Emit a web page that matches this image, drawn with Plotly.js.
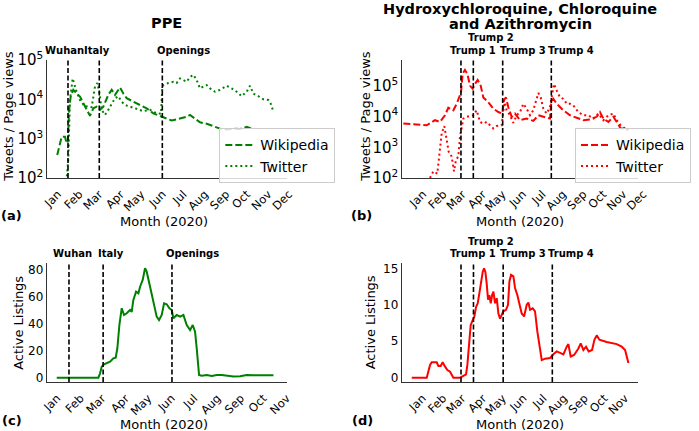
<!DOCTYPE html>
<html>
<head>
<meta charset="utf-8">
<script src="https://cdn.plot.ly/plotly-3.0.1.min.js"></script>
<style>html,body{margin:0;padding:0;background:#fff;}#chart{width:699px;height:431px;}</style>
</head>
<body>
<div id="chart"></div>
<script>
// ---- tick labels (x = day of 2020, 0 = Jan 1) ----
const monthDays = [0, 31, 60, 91, 121, 152, 182, 213, 244, 274, 305, 335];
const monthNames = ["Jan","Feb","Mar","Apr","May","Jun","Jul","Aug","Sep","Oct","Nov","Dec"];

// ---- event markers ----
const ppeEventNames = ["Wuhan", "Italy", "Openings"];
const ppeEventDays = [27.6, 73, 164.5];
const hcqEventNames = ["Trump 1", "Trump 2", "Trump 3", "Trump 4"];
const hcqEventDays = [71.5, 90.3, 135, 209];

// ---- (a) PPE: Wikipedia page views ----
const ppeWikiDays = [12,15,18.4,23.2,25.7,27.5,29,31.5,35.3,45,52.3,59.5,64.4,69.2,74,78.9,86.1,91,95.8,100.6,103.1,107.9,112.7,122.4,132.1,141.8,151.4,164.5,170.8,178.1,185.3,192.6,199.8,204.7,211.9,219.2,228.9,238.5,248.2,257.9,267.6,277.2,286.9,294.2];
const ppeWikiViews = [385,700,1120,1120,760,850,5000,11700,17400,11700,6500,3800,5900,6500,5400,6500,13000,17400,13000,17400,20000,14000,10700,8700,7200,5900,4400,3600,3300,2900,3100,3300,3600,4000,3300,2600,2400,2100,1800,1700,1800,1750,2000,1800];

// ---- (a) PPE: tweets ----
const ppeTwDays = [26,28,30.5,34.4,39.2,45,52.3,57.1,61.9,66.8,70.2,73.1,76.5,81.3,86.1,91,95.8,100.6,105.5,110.3,117.6,127.3,136.9,146.6,156.3,162.6,164.5,166,173.2,180.5,185.3,190.1,195,199.8,204.7,209.5,214.3,219.2,224,228.9,233.7,240.9,248.2,257.9,265.1,272.4,279.6,286.9,291.7,296.6,303.8,311.1,318.4,321.7,325.6];
const ppeTwCounts = [110,300,9600,34000,17400,9600,6500,6700,6300,21000,26000,15000,5400,4000,5400,7900,10700,12000,8700,7200,6500,5600,5000,5400,4400,4300,21000,23000,26000,28000,26000,34000,31000,28000,37000,42000,31000,19000,21000,23000,19000,15600,17400,22000,19000,15600,12000,15600,22000,14000,12000,10000,9600,7900,4900];

// ---- (b) HCQ: Wikipedia page views ----
const hcqWikiDays = [-16.2,4.1,19.3,32,39.6,47.2,52.3,59.9,65,71.5,74,77.6,81.2,85.2,89.3,92.9,96.9,101.5,105.5,113.2,120.8,128.4,134.5,137,140,143.6,148.7,153.7,161.4,171.5,181.6,189.3,196.9,207,209,212.1,217.2,227.3,237.5,247.6,257.7,267.9,278,283.1,288.2,295.8,303.4,308.5,314.6,321.2,326.2];
const hcqWikiViews = [5900,5600,5200,7600,6700,11000,19500,16000,26000,60000,245000,330000,245000,102000,80000,115000,155000,102000,42000,29000,18000,14000,12500,34000,42000,20000,9800,12500,7600,8600,7200,11000,9800,8600,30000,38000,26000,16000,11000,9300,7600,8000,9800,14000,8600,6700,9800,6700,4100,4100,3600];

// ---- (b) HCQ: tweets ----
const hcqTwDays = [24.4,29.4,35.5,38.6,42.1,46.2,49.7,52.8,57.3,60.9,63.9,67.5,70,72.6,75.1,80.2,85.2,90.3,95.4,100.5,105.5,110.6,115.7,120.8,125.8,133.4,136,138.5,141,146.1,151.2,156.3,161.4,166.4,171.5,176.6,181.6,185.7,189.3,192.8,196.9,201.9,207,209.5,213.1,217.2,222.2,227.3,232.4,237.5,242.5,250.1,257.7,265.4,273,280.6,288.2,295.8,303.4,308.5,314.6,321.2,326.2];
const hcqTwCounts = [100,165,140,500,2800,4900,1700,720,500,165,390,500,2200,4600,8600,9800,10200,11000,16000,6700,5900,6700,5200,4100,4900,5200,16000,29000,16000,11000,6200,11000,14000,26000,18000,11000,16000,34000,58000,42000,18000,12500,20000,42000,115000,71000,42000,38000,26000,26000,23000,14000,11000,11000,8600,12500,7600,11000,12500,7600,5200,4100,3800];

// ---- (c) PPE: active listings ----
const ppeListDays = [11.3,30,50,66.7,68.9,71.1,74.2,77.7,82.2,86.6,89.7,91.9,94.6,97.7,100.8,104.3,108.8,111,113.2,116.8,119.9,122.1,125.6,128.7,130.9,135.4,139.8,144.2,147.3,150.9,154,157.5,161.1,164.2,166.4,170.8,175.3,179.7,184.1,188.6,192.1,195.2,197.4,200.5,204.1,210.7,217.4,224,230.7,237.3,246.2,255.1,263.9,272.8,281.6,290.5,299.4];
const ppeListings = [0,0,0,0,3.2,8.1,9.9,10.6,11.8,14.3,14.8,21.7,38.9,51.3,46.3,47.6,50,48.7,57.4,63.5,62.3,67.2,72.2,80.8,78.3,67.2,54.9,45.1,42.6,46.3,54.9,54.2,51.3,50,43.9,46.3,45.1,46.3,38.9,35.2,38.9,34,21.7,2,1.5,2,1.3,2,2,1.3,0.8,1,2,1.8,1.8,1.8,1.8];

// ---- (d) HCQ: active listings ----
const hcqListDays = [-2.7,19.9,24.9,27.4,34.9,37.4,40.9,43.9,47.5,51,55,57.5,60,70.1,75.1,79.1,81.1,84.1,86.1,89.1,91.7,94.2,96.7,99.2,101.7,104.2,106.2,108.2,110.2,112.2,114.2,116.3,118.3,120.3,122.8,125.3,127.8,130.3,132.8,135.3,139.3,142.3,144.4,146.9,150.4,152.9,156.4,159.4,162.9,166.5,170.5,173,175.5,179.5,183,186.5,190.5,193.1,198.1,205.6,210.6,215.6,220.7,225.7,230.7,233.2,236.7,241.8,248.3,251.8,255.8,259.8,263.8,268.9,272.4,275.9,279.9,290.9,306,313.5,318.6,323.6];
const hcqListings = [0,0,1.74,2.1,2.1,1.6,1.6,2.1,1.5,1.05,0.8,0.45,0,0,0.3,0.45,1.74,4.9,7.2,7.9,8.4,9.7,10.2,11.6,13.2,14.5,15,14.5,12.9,10.7,11.3,10.2,11.3,11.8,10.2,10.9,8.8,8.1,8.6,9.1,9.3,10,13.2,14.1,13.9,12.3,11.3,10,8.8,8.4,10,10.3,9.3,9.5,9.1,6.3,4,2.4,2.6,2.7,3.2,3.6,3.4,3.2,4.25,4.6,2.9,3.1,4,4.7,3.8,4.25,3.6,3.8,5.2,5.8,5.2,4.9,4.6,4.25,3.8,2];

// ---------------- figure ----------------
const W = 699, H = 431;
const px = v => v / W;          // pixel -> paper x
const py = v => 1 - v / H;      // pixel -> paper y
const GREEN = '#008000', RED = '#ff0000';
const FONT = 'DejaVu Sans, Verdana, sans-serif';
const WIKI_DASH = '7px,3px', TW_DOT = '2px,3px';

const traces = [
  {x: ppeWikiDays, y: ppeWikiViews, xaxis: 'x', yaxis: 'y', name: 'Wikipedia', legend: 'legend',
   mode: 'lines', line: {color: GREEN, width: 2, dash: WIKI_DASH}},
  {x: ppeTwDays, y: ppeTwCounts, xaxis: 'x', yaxis: 'y', name: 'Twitter', legend: 'legend',
   mode: 'lines', line: {color: GREEN, width: 2, dash: TW_DOT}},
  {x: hcqWikiDays, y: hcqWikiViews, xaxis: 'x2', yaxis: 'y2', name: 'Wikipedia', legend: 'legend2',
   mode: 'lines', line: {color: RED, width: 2, dash: WIKI_DASH}},
  {x: hcqTwDays, y: hcqTwCounts, xaxis: 'x2', yaxis: 'y2', name: 'Twitter', legend: 'legend2',
   mode: 'lines', line: {color: RED, width: 2, dash: TW_DOT}},
  {x: ppeListDays, y: ppeListings, xaxis: 'x3', yaxis: 'y3', showlegend: false,
   mode: 'lines', line: {color: GREEN, width: 2}},
  {x: hcqListDays, y: hcqListings, xaxis: 'x4', yaxis: 'y4', showlegend: false,
   mode: 'lines', line: {color: RED, width: 2}}
];

const xBase = {
  tickmode: 'array', tickvals: monthDays, ticktext: monthNames, tickangle: -45,
  ticklabelshift: 9, ticklabelstandoff: 4, ticks: '', ticklen: 0, showgrid: false, zeroline: false,
  showline: true, linecolor: '#333', linewidth: 1,
  tickfont: {family: FONT, size: 11.5, color: '#000'}
};
const yBase = {
  ticks: '', ticklen: 0, ticklabelstandoff: 1.5, showgrid: false, zeroline: false,
  showline: true, linecolor: '#333', linewidth: 1,
  tickfont: {family: FONT, size: 12, color: '#000'}
};
const months11 = {tickvals: monthDays.slice(0, 11), ticktext: monthNames.slice(0, 11)};

const layout = {
  width: W, height: H, margin: {l: 0, r: 0, t: 0, b: 0},
  paper_bgcolor: '#fff', plot_bgcolor: '#fff',
  font: {family: FONT, color: '#000', size: 13},
  xaxis: Object.assign({}, xBase, {domain: [px(46.7), px(286.7)], range: [-3.3, 345], anchor: 'y'}),
  yaxis: Object.assign({}, yBase, {domain: [py(178), py(60)], type: 'log', range: [2, 5], dtick: 1,
    exponentformat: 'power', anchor: 'x'}),
  xaxis2: Object.assign({}, xBase, {domain: [px(401.7), px(638.3)], range: [-18.7, 341.4], anchor: 'y2'}),
  yaxis2: Object.assign({}, yBase, {domain: [py(178), py(60)], type: 'log', range: [2, 5.84], dtick: 1,
    exponentformat: 'power', anchor: 'x2'}),
  xaxis3: Object.assign({}, xBase, months11, {domain: [px(46.7), px(286.7)], range: [-2, 317], anchor: 'y3'}),
  yaxis3: Object.assign({}, yBase, {domain: [py(382), py(263)], range: [-3.2, 84.7], tickvals: [0, 20, 40, 60, 80],
    anchor: 'x3'}),
  xaxis4: Object.assign({}, xBase, months11, {domain: [px(401.7), px(638.3)], range: [-17.8, 338.5], anchor: 'y4'}),
  yaxis4: Object.assign({}, yBase, {domain: [py(382), py(263)], range: [-0.6, 15.73], tickvals: [0, 5, 10, 15],
    anchor: 'x4'}),
  legend: {x: px(219.3), y: py(128.3), xanchor: 'left', yanchor: 'top',
    bgcolor: 'rgba(255,255,255,0.8)', bordercolor: '#cccccc', borderwidth: 1,
    font: {family: FONT, size: 14, color: '#000'}},
  legend2: {x: px(575), y: py(128.3), xanchor: 'left', yanchor: 'top',
    bgcolor: 'rgba(255,255,255,0.8)', bordercolor: '#cccccc', borderwidth: 1,
    font: {family: FONT, size: 14, color: '#000'}},
  shapes: [],
  annotations: []
};

// event lines
function eventLines(days, xref, yref) {
  days.forEach(d => layout.shapes.push({type: 'line', xref: xref, yref: yref + ' domain',
    x0: d, x1: d, y0: 0, y1: 1, line: {color: '#000', width: 1.6, dash: '5px,2.5px'}}));
}
eventLines(ppeEventDays, 'x', 'y');
eventLines(hcqEventDays, 'x2', 'y2');
eventLines(ppeEventDays, 'x3', 'y3');
eventLines(hcqEventDays, 'x4', 'y4');

function ann(text, xPix, yPix, size, bold, angle) {
  layout.annotations.push({text: bold ? '<b>' + text + '</b>' : text, xref: 'paper', yref: 'paper',
    x: px(xPix), y: py(yPix), xanchor: 'center', yanchor: 'middle', showarrow: false,
    textangle: angle || 0, font: {family: FONT, size: size, color: '#000'}});
}
// event labels
const ppeLabelX = [64, 97.5, 183], ppeLabelX2 = [72.5, 110.5, 192];
ppeEventNames.forEach((n, i) => { ann(n, ppeLabelX[i], 50, 10, true); ann(n, ppeLabelX2[i], 253.3, 10, true); });
const hcqLabelX = [473.3, 490.8, 522.5, 570.5], hcqLabelY = [50, 37.3, 50, 50];
hcqEventNames.forEach((n, i) => { ann(n, hcqLabelX[i], hcqLabelY[i], 10, true); ann(n, hcqLabelX[i], hcqLabelY[i] + 204, 10, true); });
// subplot titles
ann('PPE', 166.7, 22.7, 14.5, true);
ann('Hydroxychloroquine, Chloroquine', 520, 9, 14.5, true);
ann('and Azithromycin', 520, 24.5, 14.5, true);
// axis titles
ann('Month (2020)', 164, 221, 13, false);
ann('Month (2020)', 520, 221, 13, false);
ann('Month (2020)', 164, 424, 13, false);
ann('Month (2020)', 520, 424, 13, false);
ann('Tweets / Page views', 9, 116.7, 13, false, -90);
ann('Tweets / Page views', 366, 116.7, 13, false, -90);
ann('Active Listings', 18.3, 322.5, 13, false, -90);
ann('Active Listings', 370.8, 322.5, 13, false, -90);
// panel letters
ann('(a)', 11, 215, 13, true);
ann('(b)', 361, 215, 13, true);
ann('(c)', 12, 420.5, 13, true);
ann('(d)', 362, 420.5, 13, true);

Plotly.newPlot('chart', traces, layout, {staticPlot: true, displayModeBar: false});
</script>
</body>
</html>
